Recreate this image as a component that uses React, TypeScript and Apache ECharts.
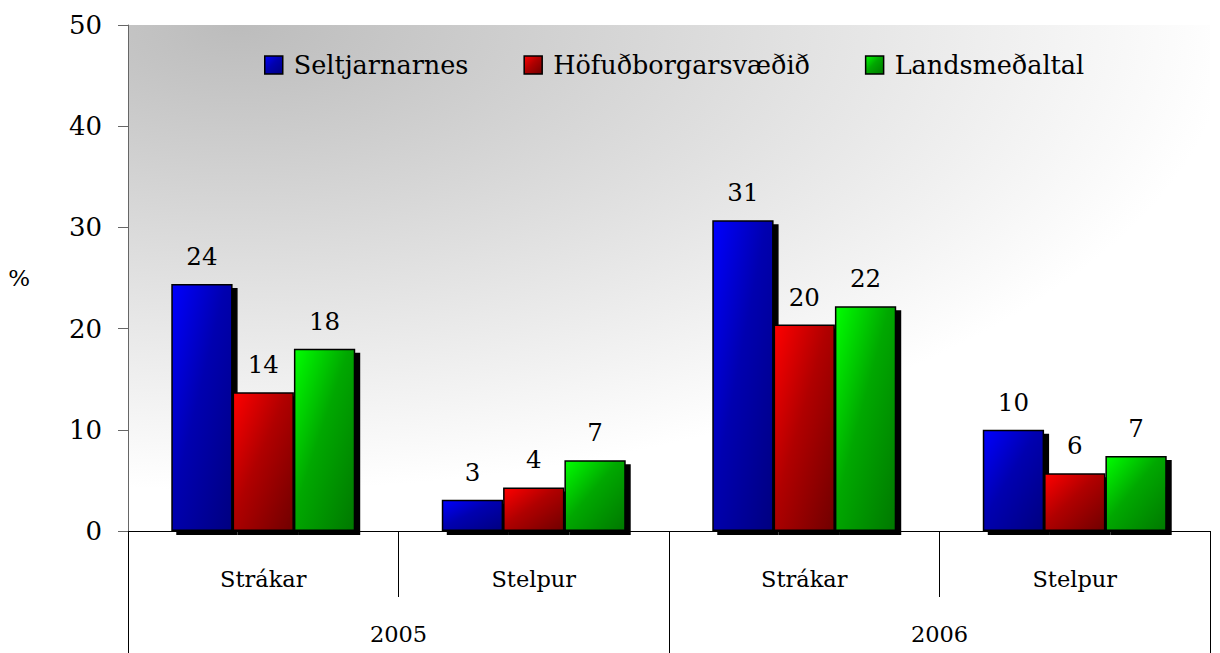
import React, { useEffect, useRef } from "react";
import * as echarts from "echarts";

const groups = ["Strákar", "Stelpur", "Strákar", "Stelpur"];
const years = ["2005", "2006"];
const seriesNames = ["Seltjarnarnes", "Höfuðborgarsvæðið", "Landsmeðaltal"];
const seltjarnarnes = [24.4, 3.1, 30.7, 10.0];
const hofudborg = [13.7, 4.3, 20.4, 5.7];
const landsmedaltal = [18.0, 7.0, 22.2, 7.4];
const yTicks = [0, 10, 20, 30, 40, 50];

const FONT = "DejaVu Serif";

function grad(light: string, mid: string, dark: string) {
  return new echarts.graphic.LinearGradient(0, 0, 1, 1, [
    { offset: 0, color: light },
    { offset: 0.45, color: mid },
    { offset: 1, color: dark },
  ]);
}

const fills = [
  grad("#0000ff", "#0000b0", "#000080"),
  grad("#ff0000", "#b00000", "#700000"),
  grad("#00ff00", "#00a800", "#007800"),
];

export default function App() {
  const ref = useRef<HTMLDivElement>(null);
  useEffect(() => {
    if (!ref.current) return;
    const chart = echarts.init(ref.current, undefined, { renderer: "svg" });
    const data = [seltjarnarnes, hofudborg, landsmedaltal];
    chart.setOption({
      animation: false,
      textStyle: { fontFamily: FONT, color: "#000" },
      grid: {
        left: 128,
        right: 10,
        top: 25,
        bottom: 122,
        show: true,
        borderWidth: 0,
        backgroundColor: new echarts.graphic.RadialGradient(0.1, 0.0, 0.92, [
          { offset: 0, color: "#bcbcbc" },
          { offset: 1, color: "#ffffff" },
        ]),
      },
      legend: {
        left: 259,
        top: 47,
        itemWidth: 18,
        itemHeight: 18,
        itemGap: 55,
        textStyle: { fontFamily: FONT, fontSize: 25.5, color: "#000", padding: [0, 0, 0, 6] },
        data: seriesNames.map((n, i) => ({
          name: n,
          icon: "rect",
          itemStyle: {
            color: fills[i],
            borderColor: "#000",
            borderWidth: 1.5,
            shadowColor: "transparent",
            shadowBlur: 0,
            shadowOffsetX: 0,
            shadowOffsetY: 0,
          },
        })),
      },
      xAxis: [
        {
          type: "category",
          data: groups,
          position: "bottom",
          axisLine: { show: true, lineStyle: { color: "#000", width: 1 } },
          axisTick: { show: true, length: 66, lineStyle: { color: "#000" } },
          axisLabel: { fontFamily: FONT, fontSize: 22.5, color: "#000", margin: 36 },
        },
        {
          type: "category",
          data: years,
          position: "bottom",
          offset: 0,
          axisLine: { show: false },
          axisTick: { show: true, length: 122, lineStyle: { color: "#000" } },
          axisLabel: { fontFamily: FONT, fontSize: 22.5, color: "#000", margin: 91 },
        },
      ],
      yAxis: {
        type: "value",
        min: 0,
        max: 50,
        interval: 10,
        name: "%",
        nameLocation: "middle",
        nameRotate: 0,
        nameGap: 98,
        nameTextStyle: { fontFamily: FONT, fontSize: 23, color: "#000" },
        axisLine: { show: true, lineStyle: { color: "#666", width: 1 } },
        axisTick: { show: true, length: 10, lineStyle: { color: "#666" } },
        splitLine: { show: false },
        axisLabel: {
          fontFamily: FONT,
          fontSize: 26,
          color: "#000",
          margin: 26,
          formatter: (v: number) => (yTicks.includes(v) ? String(v) : ""),
        },
      },
      series: seriesNames.map((n, i) => ({
        name: n,
        type: "bar",
        xAxisIndex: 0,
        data: data[i],
        barGap: "0%",
        barCategoryGap: "32%",
        itemStyle: {
          color: fills[i],
          borderColor: "#000",
          borderWidth: 1.5,
          shadowColor: "#000",
          shadowBlur: 0,
          shadowOffsetX: 5,
          shadowOffsetY: 4,
        },
        label: {
          show: true,
          position: "top",
          distance: 15,
          fontFamily: FONT,
          fontSize: 24.5,
          color: "#000",
          formatter: (p: any) => String(Math.round(p.value)),
        },
      })),
    });
    return () => chart.dispose();
  }, []);
  return <div ref={ref} style={{ width: 1220, height: 653, position: "absolute", left: 0, top: 0 }} />;
}
